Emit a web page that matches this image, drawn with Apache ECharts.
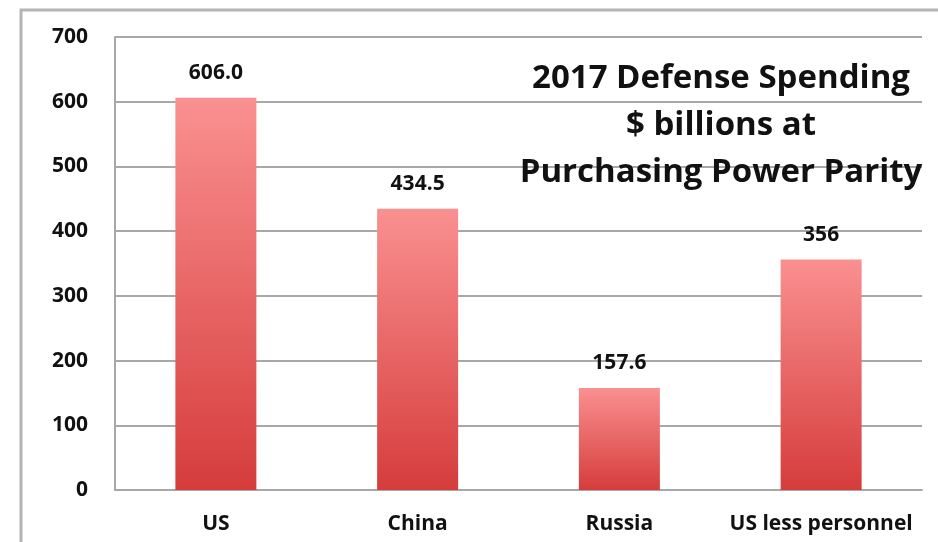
<!DOCTYPE html>
<html><head><meta charset="utf-8">
<script src="https://cdn.jsdelivr.net/npm/echarts@6/dist/echarts.min.js"></script>
<style>html,body{margin:0;padding:0;background:#fff}#c{width:938px;height:542px}</style>
</head><body><div id="c"></div>
<script>
const categories = ['US', 'China', 'Russia', 'US less personnel'];
const values = [606.0, 434.5, 157.6, 356];
const valueLabels = ['606.0', '434.5', '157.6', '356'];
const titleLines = ['2017 Defense Spending', '$ billions at', 'Purchasing Power Parity'];

const chart = echarts.init(document.getElementById('c'));
const font = '"Open Sans", "DejaVu Sans", sans-serif';
chart.setOption({
  animation: false,
  backgroundColor: '#fff',
  grid: { left: 115, right: 16, top: 37, bottom: 52 },
  graphic: [
    { type: 'polyline', shape: { points: [[21, 542], [21, 10], [938, 10]] }, style: { stroke: '#b4b4b4', lineWidth: 3, fill: null } },
    { type: 'text', x: 721, y: 55, z: 10, style: { text: titleLines.join('\n'), align: 'center', verticalAlign: 'top', font: 'bold 33px ' + font, fill: '#111', lineHeight: 47 } }
  ],
  xAxis: {
    type: 'category', data: categories,
    axisLine: { lineStyle: { color: '#a8a8a8', width: 2 } },
    axisTick: { show: false },
    axisLabel: { interval: 0, color: '#111', fontWeight: 'bold', fontSize: 21, fontFamily: font, margin: 24 }
  },
  yAxis: {
    type: 'value', min: 0, max: 700, interval: 100,
    axisLine: { show: true, lineStyle: { color: '#a8a8a8', width: 2 } },
    axisTick: { show: false },
    splitLine: { lineStyle: { color: '#a8a8a8', width: 2 } },
    axisLabel: { color: '#111', fontWeight: 'bold', fontSize: 21, fontFamily: font, margin: 27 }
  },
  series: [{
    type: 'bar', data: values, barWidth: 81,
    itemStyle: { color: new echarts.graphic.LinearGradient(0, 0, 0, 1, [
      { offset: 0, color: '#fa9090' }, { offset: 1, color: '#d63c3c' }]) },
    label: { show: true, position: 'top', distance: 14, color: '#111', fontWeight: 'bold', fontSize: 21, fontFamily: font,
      formatter: p => valueLabels[p.dataIndex] }
  }]
});
</script></body></html>
